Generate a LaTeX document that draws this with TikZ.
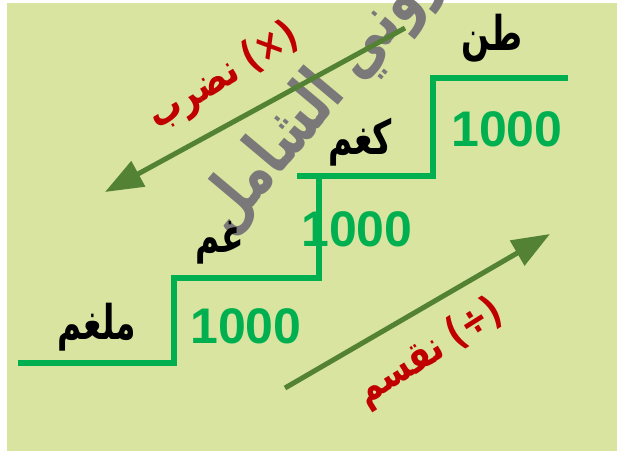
\documentclass[tikz,border=0pt]{standalone}
\usepackage{fontspec}
\usepackage{graphicx}
\setmainfont{Liberation Sans}
\newfontfamily\arabicfont[Script=Arabic,BoldFont={DejaVu Sans Bold}]{DejaVu Sans}
\TeXXeTstate=1
\usetikzlibrary{arrows.meta}
\definecolor{bgc}{RGB}{216,228,160}
\definecolor{stair}{RGB}{0,176,80}
\definecolor{arr}{RGB}{84,130,53}
\definecolor{redt}{RGB}{192,0,0}
\definecolor{wm}{RGB}{122,120,120}
\newcommand{\tallA}[1]{\scalebox{1}[1.45]{#1}}
\newcommand{\tallB}[1]{\scalebox{1}[1.25]{#1}}
\newcommand{\tallC}[1]{\scalebox{1}[1.35]{#1}}
\tikzset{
  num/.style={text=stair, inner sep=0pt, font=\bfseries\fontsize{50}{50}\selectfont},
  lab/.style={text=black, inner sep=0pt, font=\arabicfont\bfseries\fontsize{33}{33}\selectfont},
  redlab/.style={text=redt, inner sep=0pt, font=\arabicfont\bfseries\fontsize{33}{33}\selectfont},
  wmark/.style={text=wm, inner sep=0pt, font=\arabicfont\bfseries\fontsize{51}{51}\selectfont},
  stairline/.style={draw=stair, line width=6.5pt},
  bigarrow/.style={draw=arr, line width=5pt, -{Triangle[length=38pt,width=28pt]}}
}
\begin{document}
\begin{tikzpicture}[x=1pt,y=-1pt]
\useasboundingbox (0,0) rectangle (617,450);
\fill[white] (0,0) rectangle (617,450);
\fill[bgc] (7,3) rectangle (625,458);
% watermark
\node[wmark, rotate=50] (wm) at (322,97) {\tallC{\beginR روني الشامل\endR}};
% staircase
\coordinate (s0) at (18,363);
\coordinate (s1) at (174,363);
\coordinate (s2) at (174,278);
\coordinate (s3) at (319,278);
\coordinate (s4) at (319,176);
\coordinate (t0) at (297,176);
\coordinate (t1) at (433,176);
\coordinate (t2) at (433,78);
\coordinate (t3) at (568,78);
\draw[stairline] (s0) -- (s1) -- (s2) -- (s3) -- (s4);
\draw[stairline] (t0) -- (t1) -- (t2) -- (t3);
% numbers
\node[num] (n1) at (246,326) {1000};
\node[num] (n2) at (357,229) {1000};
\node[num] (n3) at (507,129) {1000};
% unit labels
\node[lab] (l1) at (97,327) {\tallA{\beginR ملغم\endR}};
\node[lab] (l2) at (220,243) {\tallA{\beginR غم\endR}};
\node[lab] (l3) at (360,142) {\tallA{\beginR كغم\endR}};
\node[lab] (l4) at (492,38) {\tallA{\beginR طن\endR}};
% arrows
\coordinate (a0) at (405,28);
\coordinate (a1) at (105,192);
\coordinate (b0) at (285,388);
\coordinate (b1) at (550,234);
\draw[bigarrow] (a0) -- (a1);
\draw[bigarrow] (b0) -- (b1);
% operation labels
\node[redlab, rotate=31] (mul) at (224,77) {\tallB{\beginR نضرب\endR\ (×)}};
\node[redlab, rotate=32] (div) at (430,353) {\tallB{\beginR نقسم\endR\ (÷)}};
\end{tikzpicture}
\end{document}
